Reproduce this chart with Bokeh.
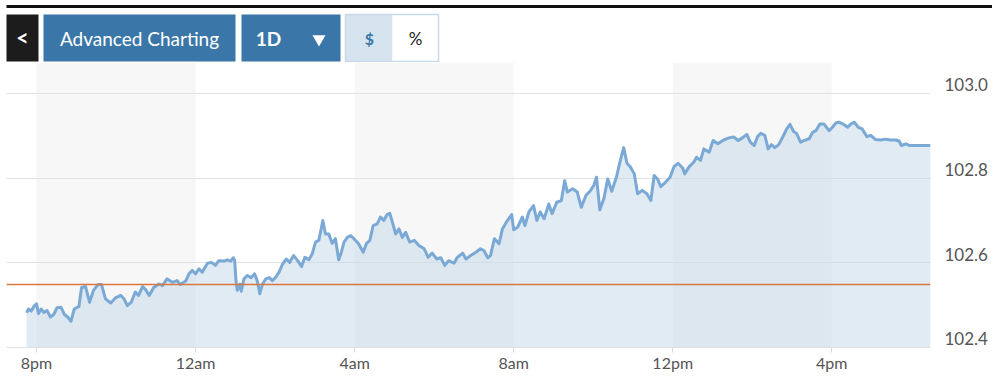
from bokeh.plotting import figure
from bokeh.models import (Range1d, LinearAxis, FixedTicker, Span, BoxAnnotation,
                          Grid, PrintfTickFormatter)
from bokeh.layouts import column
from bokeh.embed import file_html
from bokeh.resources import INLINE
from bokeh.core.properties import value

# ---------------- data (minutes after 8pm, price) ----------------
minutes = [
    -15, -12, -8, -4, 0, 3, 7, 11, 16, 21,
    26, 31, 37, 42, 47, 52, 57, 64, 68, 74,
    80, 86, 93, 98, 104, 112, 119, 127, 132, 137,
    143, 149, 154, 160, 165, 170, 177, 185, 190, 197,
    205, 212, 217, 225, 230, 235, 240, 245, 250, 258,
    264, 270, 275, 283, 288, 293, 297, 299, 301, 303,
    307, 309, 313, 318, 324, 329, 333, 337, 341, 346,
    351, 356, 361, 366, 371, 377, 382, 388, 394, 400,
    405, 411, 416, 421, 426, 429, 432, 436, 441, 446,
    451, 456, 460, 464, 469, 474, 479, 486, 493, 498,
    503, 508, 514, 519, 524, 529, 533, 537, 542, 547,
    552, 557, 563, 570, 577, 585, 591, 597, 604, 610,
    616, 622, 630, 635, 643, 648, 655, 663, 670,
    675, 681, 685, 691, 698, 703, 709, 717, 720, 726, 733,
    737, 743, 750, 755, 760, 766, 773, 778, 785, 792,
    797, 801, 809, 816, 822, 829, 836, 841, 845, 850,
    856, 862, 868, 875, 881, 886, 891, 896, 902, 907,
    914, 921, 927, 932, 937, 942, 949, 956, 962, 968,
    975, 978, 985, 992, 996, 1002, 1007, 1015, 1021, 1028,
    1037, 1045, 1052, 1059, 1065, 1072, 1077, 1083, 1088, 1093,
    1099, 1104, 1109, 1114, 1120, 1126, 1132, 1137, 1142, 1147,
    1153, 1159, 1166, 1171, 1176, 1182, 1188, 1196, 1201, 1206,
    1211, 1218, 1224, 1229, 1234, 1240, 1246, 1253, 1259, 1266,
    1274, 1281, 1289, 1297, 1302, 1305, 1312, 1317, 1322, 1349,
]
prices = [
    102.482, 102.491, 102.486, 102.497, 102.503, 102.480, 102.491, 102.483, 102.487, 102.472,
    102.478, 102.494, 102.495, 102.478, 102.472, 102.462, 102.491, 102.497, 102.542, 102.544,
    102.507, 102.535, 102.549, 102.549, 102.515, 102.505, 102.517, 102.523, 102.515, 102.499,
    102.507, 102.531, 102.523, 102.544, 102.536, 102.523, 102.542, 102.550, 102.546, 102.562,
    102.554, 102.558, 102.549, 102.557, 102.574, 102.582, 102.574, 102.586, 102.578, 102.599,
    102.601, 102.594, 102.605, 102.604, 102.607, 102.604, 102.612, 102.605, 102.558, 102.535,
    102.550, 102.533, 102.562, 102.570, 102.565, 102.574, 102.558, 102.527, 102.550, 102.562,
    102.565, 102.558, 102.566, 102.578, 102.596, 102.609, 102.601, 102.617, 102.605, 102.591,
    102.613, 102.607, 102.621, 102.649, 102.653, 102.676, 102.700, 102.668, 102.668, 102.646,
    102.657, 102.607, 102.625, 102.649, 102.660, 102.664, 102.657, 102.645, 102.625, 102.646,
    102.653, 102.688, 102.692, 102.708, 102.700, 102.714, 102.717, 102.696, 102.668, 102.680,
    102.660, 102.672, 102.649, 102.653, 102.641, 102.633, 102.613, 102.623, 102.609, 102.612,
    102.594, 102.605, 102.599, 102.613, 102.623, 102.609, 102.617, 102.625, 102.633,
    102.629, 102.612, 102.617, 102.657, 102.645, 102.680, 102.696, 102.714, 102.678, 102.684, 102.708,
    102.688, 102.720, 102.735, 102.700, 102.720, 102.704, 102.739, 102.716, 102.743, 102.747,
    102.794, 102.767, 102.775, 102.767, 102.731, 102.759, 102.771, 102.783, 102.802, 102.725,
    102.751, 102.798, 102.769, 102.802, 102.842, 102.872, 102.835, 102.827, 102.810, 102.763,
    102.771, 102.763, 102.747, 102.806, 102.798, 102.780, 102.790, 102.802, 102.827, 102.835,
    102.824, 102.810, 102.827, 102.838, 102.849, 102.842, 102.869, 102.861, 102.889, 102.881,
    102.890, 102.895, 102.897, 102.889, 102.895, 102.903, 102.885, 102.877, 102.898, 102.906,
    102.901, 102.869, 102.879, 102.872, 102.879, 102.897, 102.916, 102.927, 102.911, 102.905,
    102.885, 102.889, 102.893, 102.908, 102.912, 102.928, 102.928, 102.912, 102.920, 102.930,
    102.932, 102.927, 102.920, 102.928, 102.932, 102.920, 102.916, 102.898, 102.901, 102.891,
    102.890, 102.892, 102.890, 102.890, 102.887, 102.877, 102.881, 102.877, 102.877, 102.877,
]
tick_minutes = [0, 240, 480, 720, 960, 1200]
tick_labels = ["8pm", "12am", "4am", "8am", "12pm", "4pm"]
price_ticks = [102.4, 102.6, 102.8, 103.0]
prev_close = 102.549
band_starts = [0, 480, 960]
band_ends = [240, 720, 1200]

FONT = "Lato"
W = 992
TOP_H = 62
CH_H = 323

# ---------------- top button bar ----------------
top = figure(width=W, height=TOP_H, x_range=Range1d(0, W), y_range=Range1d(TOP_H, 0),
             toolbar_location=None, output_backend="svg", x_axis_type=None,
             y_axis_type=None, min_border=0, outline_line_color=None)
top.frame_align = False
top.grid.visible = False
top.background_fill_color = "white"
top.border_fill_color = "white"

# black rule
top.quad(left=[6], right=[W], top=[4.5], bottom=[7.5], fill_color="#111111", line_color=None)
# back button
top.quad(left=[6], right=[38], top=[14], bottom=[61], fill_color="#1c1c1c", line_color=None)
# blue buttons
top.quad(left=[43, 241], right=[235, 340], top=[14, 14], bottom=[61, 61],
         fill_color="#3a77a8", line_color=None)
# toggle
top.quad(left=[345], right=[392], top=[14], bottom=[61], fill_color="#d6e4f0", line_color=None)
top.quad(left=[392], right=[438], top=[14], bottom=[61], fill_color="white", line_color=None)
top.quad(left=[345], right=[438], top=[14], bottom=[61], fill_color=None,
         line_color="#c9d8e6", line_width=1.5)

top.text(x=[22], y=[37], text=["<"], text_font=value(FONT), text_font_size="22px",
         text_font_style="bold", text_color="white", text_align="center",
         text_baseline="middle")
top.text(x=[139], y=[38], text=["Advanced Charting"], text_font=value(FONT),
         text_font_size="19px", text_color="white", text_align="center", text_baseline="middle")
top.text(x=[268], y=[38], text=["1D"], text_font=value(FONT), text_font_size="19px",
         text_font_style="bold", text_color="white", text_align="center", text_baseline="middle")
top.scatter(x=[318.5], y=[38.5], marker="inverted_triangle", size=13, fill_color="white",
            line_color=None)
top.text(x=[369], y=[38], text=["$"], text_font=value(FONT), text_font_size="16px",
         text_font_style="bold", text_color="#3a77a8", text_align="center", text_baseline="middle")
top.text(x=[415], y=[38], text=["%"], text_font=value(FONT), text_font_size="17px",
         text_color="#222222", text_align="center", text_baseline="middle")

# ---------------- chart ----------------
Y0, Y1 = 102.4, 103.073
p = figure(width=W, height=CH_H, x_range=Range1d(-45.3, 1349), y_range=Range1d(Y0, Y1),
           toolbar_location=None, output_backend="svg", y_axis_location=None,
           min_border_left=6, min_border_right=62, min_border_top=0, min_border_bottom=38,
           outline_line_color=None)
p.frame_align = False
p.background_fill_color = "white"
p.border_fill_color = "white"
p.xgrid.visible = False
p.ygrid.visible = False

for s, e in zip(band_starts, band_ends):
    p.add_layout(BoxAnnotation(left=s, right=e, fill_color="#f7f7f7", fill_alpha=1.0,
                               line_color=None, level="image"))

p.add_layout(Grid(dimension=1, ticker=FixedTicker(ticks=price_ticks[1:]),
                  grid_line_color="#e2e2e2", grid_line_width=1.2))

p.varea(x=minutes, y1=Y0, y2=prices, fill_color="#c3d7e7", fill_alpha=0.5)
p.line(minutes, prices, line_color="#7aa9d6", line_width=3, line_join="round")

p.add_layout(Span(location=prev_close, dimension="width", line_color="#d9773e",
                  line_width=1.5))

xa = p.xaxis[0]
xa.ticker = FixedTicker(ticks=tick_minutes)
xa.major_label_overrides = {t: l for t, l in zip(tick_minutes, tick_labels)}
xa.axis_line_color = "#e2e2e2"
xa.axis_line_width = 1.2
xa.major_tick_line_color = "#d8d8d8"
xa.major_tick_in = 0
xa.major_tick_out = 5
xa.minor_tick_line_color = None
xa.major_label_standoff = 0
xa.major_label_text_font = FONT
xa.major_label_text_font_size = "16px"
xa.major_label_text_color = "#555555"

d = 0.0205
p.extra_y_ranges = {"lab": Range1d(Y0 - d, Y1 - d)}
ya = LinearAxis(y_range_name="lab", ticker=FixedTicker(ticks=price_ticks),
                formatter=PrintfTickFormatter(format="%.1f"))
ya.axis_line_color = None
ya.major_tick_line_color = None
ya.minor_tick_line_color = None
ya.major_tick_in = 0
ya.major_tick_out = 0
ya.major_label_standoff = 14
ya.major_label_text_font = FONT
ya.major_label_text_font_size = "17px"
ya.major_label_text_color = "#555555"
p.add_layout(ya, "right")

layout = column(top, p, spacing=0)
open("out.html", "w").write(file_html(layout, INLINE))
